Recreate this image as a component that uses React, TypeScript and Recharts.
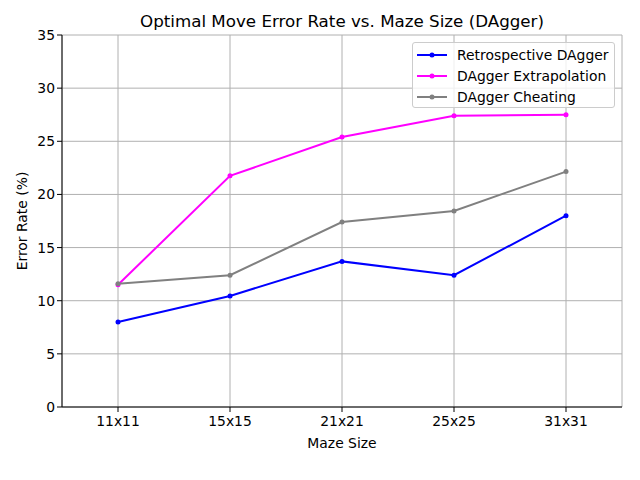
import {
  CartesianGrid,
  Label,
  Line,
  LineChart,
  XAxis,
  YAxis,
} from "recharts";

const mazeSizes = ["11x11", "15x15", "21x21", "25x25", "31x31"];
const retrospective = [8.0, 10.45, 13.7, 12.4, 18.0];
const extrapolation = [11.5, 21.75, 25.4, 27.4, 27.5];
const cheating = [11.6, 12.4, 17.4, 18.45, 22.15];
const yTicks = [0, 5, 10, 15, 20, 25, 30, 35];

const seriesDefs = [
  { key: "retrospective", name: "Retrospective DAgger", color: "#0000ff" },
  { key: "extrapolation", name: "DAgger Extrapolation", color: "#ff00ff" },
  { key: "cheating", name: "DAgger Cheating", color: "#808080" },
];

const data = mazeSizes.map((size, i) => ({
  size,
  retrospective: retrospective[i],
  extrapolation: extrapolation[i],
  cheating: cheating[i],
}));

const FONT = "'DejaVu Sans', sans-serif";
const tickStyle = { fill: "#000", fontSize: 13.9, fontFamily: FONT };

function LegendBox() {
  return (
    <div
      style={{
        position: "absolute",
        left: 412,
        top: 42,
        border: "1px solid #cccccc",
        borderRadius: 3,
        background: "rgba(255,255,255,0.8)",
        padding: "1px 0 2px 0",
        fontFamily: FONT,
        fontSize: 13.9,
        color: "#000",
        boxSizing: "border-box",
        width: 203,
        height: 66,
      }}
    >
      {seriesDefs.map((s) => (
        <div key={s.key} style={{ display: "flex", alignItems: "center", height: 21 }}>
          <svg width={44} height={10} style={{ flex: "none" }}>
            <line x1={4} x2={34} y1={5} y2={5} stroke={s.color} strokeWidth={2} />
            <circle cx={19} cy={5} r={2.5} fill={s.color} />
          </svg>
          <span style={{ whiteSpace: "nowrap" }}>{s.name}</span>
        </div>
      ))}
    </div>
  );
}

export default function App() {
  return (
    <div style={{ position: "absolute", left: 0, top: 0, width: 640, height: 480, background: "#fff" }}>
      <div
        style={{
          position: "absolute",
          left: 62,
          width: 560,
          top: 10,
          textAlign: "center",
          fontFamily: FONT,
          fontSize: 16.7,
          lineHeight: "22px",
        }}
      >
        Optimal Move Error Rate vs. Maze Size (DAgger)
      </div>
      <LineChart width={640} height={480} data={data} margin={{ top: 35, right: 18, left: 0, bottom: 0 }}>
        <CartesianGrid stroke="#b0b0b0" strokeWidth={1} />
        <XAxis
          dataKey="size"
          padding={{ left: 56, right: 56 }}
          height={73}
          tick={tickStyle}
          tickSize={5}
          tickMargin={4}
          tickLine={{ stroke: "#000" }}
          axisLine={{ stroke: "#000" }}
          interval={0}
        >
          <Label value="Maze Size" position="insideBottom" offset={32} style={{ fill: "#000", fontSize: 13.9, fontFamily: FONT }} />
        </XAxis>
        <XAxis
          xAxisId="top"
          dataKey="size"
          orientation="top"
          padding={{ left: 56, right: 56 }}
          height={0}
          tick={false}
          tickLine={false}
          axisLine={{ stroke: "#000" }}
        />
        <YAxis
          domain={[0, 35]}
          ticks={yTicks}
          width={62}
          tick={tickStyle}
          tickSize={5}
          tickLine={{ stroke: "#000" }}
          axisLine={{ stroke: "#000" }}
        >
          <Label
            value="Error Rate (%)"
            angle={-90}
            position="insideLeft"
            offset={22}
            style={{ textAnchor: "middle", fill: "#000", fontSize: 13.9, fontFamily: FONT }}
          />
        </YAxis>
        <YAxis
          yAxisId="right"
          orientation="right"
          domain={[0, 35]}
          width={0}
          tick={false}
          tickLine={false}
          axisLine={{ stroke: "#000" }}
        />
        {seriesDefs.map((s) => (
          <Line
            key={s.key}
            dataKey={s.key}
            name={s.name}
            type="linear"
            stroke={s.color}
            strokeWidth={2}
            dot={{ r: 2.5, fill: s.color, stroke: s.color, strokeWidth: 0 }}
            activeDot={false}
            isAnimationActive={false}
          />
        ))}
      </LineChart>
      <LegendBox />
    </div>
  );
}
